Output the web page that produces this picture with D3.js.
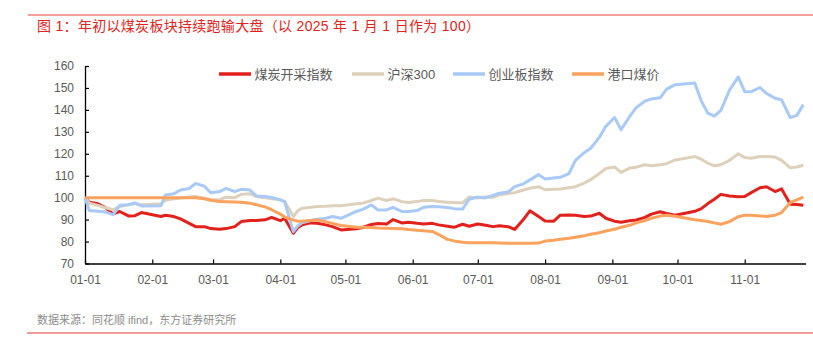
<!DOCTYPE html>
<html>
<head>
<meta charset="utf-8">
<script src="https://cdn.jsdelivr.net/npm/d3@7"></script>
<style>
  html, body { margin: 0; padding: 0; background: #fff; }
  svg { display: block; font-family: "Liberation Sans", Arial, "Noto Sans CJK SC", sans-serif; }
</style>
</head>
<body>
<svg id="chart" width="813" height="346"></svg>
<script>
// ---------------- data ----------------
const title = "图 1：年初以煤炭板块持续跑输大盘（以 2025 年 1 月 1 日作为 100）";
const source = "数据来源：同花顺 ifind，东方证券研究所";
const seriesNames = ["煤炭开采指数", "沪深300", "创业板指数", "港口煤价"];
const seriesColors = ["#e3211c", "#ddd1bb", "#a9c9f7", "#fba25e"];
const yTicks = [70, 80, 90, 100, 110, 120, 130, 140, 150, 160];
const xTickLabels = ["01-01","02-01","03-01","04-01","05-01","06-01","07-01","08-01","09-01","10-01","11-01"];
const dates = [
  "01-01","01-03","01-07","01-10","01-14","01-17","01-21","01-24","01-27",
  "02-05","02-07","02-11","02-14","02-18","02-21","02-25","02-28",
  "03-04","03-07","03-11","03-14","03-18","03-21","03-25","03-28",
  "04-01","04-03","04-07","04-09","04-11","04-15","04-18","04-22","04-25","04-29",
  "05-06","05-09","05-13","05-16","05-20","05-23","05-27","05-30",
  "06-03","06-06","06-10","06-13","06-17","06-20","06-24","06-27",
  "07-01","07-04","07-08","07-11","07-15","07-18","07-22","07-25","07-29",
  "08-01","08-05","08-08","08-12","08-15","08-19","08-22","08-26","08-29",
  "09-02","09-05","09-09","09-12","09-16","09-19","09-23","09-26","09-30",
  "10-09","10-12","10-15","10-18","10-21","10-25","10-29",
  "11-01","11-04","11-08","11-11","11-15","11-18","11-22","11-25","11-28"
];
const coal = [
  100, 97.9, 97.2, 95.7, 92.6, 93.7, 91.7, 91.8, 93.2,
  91.4, 92.0, 91.4, 90.3, 88.3, 86.8, 86.8, 85.9,
  85.6, 85.9, 86.8, 89.1, 89.6, 89.6, 89.9, 91.0,
  89.5, 90.6, 83.8, 86.3, 87.6, 88.5, 88.3, 87.6, 86.8, 85.3,
  85.8, 86.4, 87.8, 88.2, 88.0, 90.0, 88.5, 88.8,
  88.3, 88.0, 88.3, 87.6, 87.0, 86.5, 87.9, 87.0,
  88.0, 87.5, 86.8, 87.2, 86.8, 85.5, 90.0, 94.0, 91.4,
  89.4, 89.3, 92.0, 92.1, 92.0, 91.4, 91.6, 92.9, 90.6,
  89.3, 88.8, 89.5, 89.8, 91.0, 92.5, 93.6, 92.8, 92.0,
  93.8, 95.0, 97.3, 99.3, 101.5, 100.8, 100.4,
  100.5, 102.3, 104.5, 105.0, 102.8, 104.0, 97.0, 96.9, 96.5
];
const hs300 = [
  100, 97.5, 96.5, 95.5, 94.5, 96.0, 96.8, 97.3, 96.8,
  97.2, 98.8, 99.5, 99.8, 100.3, 100.6, 99.8, 99.2,
  99.0, 100.2, 100.0, 101.5, 101.8, 100.5, 99.9, 99.5,
  99.0, 98.2, 91.4, 94.0, 95.2, 95.6, 96.0, 96.1, 96.3, 96.3,
  97.2, 97.5, 98.7, 99.8, 98.7, 99.5, 98.2, 97.8,
  98.2, 98.7, 98.7, 98.3, 97.9, 97.8, 97.6, 100.3,
  99.8, 100.3, 100.2, 101.3, 101.9, 102.3, 103.5, 104.3, 105.0,
  103.6, 103.8, 104.0, 104.5, 105.0, 106.6, 108.2, 111.0, 113.3,
  114.0, 111.5, 113.5, 113.9, 115.0, 114.5, 115.0, 115.5, 117.2,
  118.7, 117.5, 115.7, 114.5, 115.0, 117.0, 120.0,
  118.3, 118.0, 118.8, 118.8, 118.5, 117.0, 113.6, 114.0, 114.8
];
const chinext = [
  100, 94.2, 93.8, 93.6, 92.3, 96.5, 96.8, 97.6, 96.2,
  96.3, 101.2, 101.8, 103.5, 104.2, 106.5, 105.2, 102.2,
  102.8, 104.2, 102.8, 103.8, 103.5, 100.8, 100.5, 100.1,
  99.0, 98.2, 84.5, 87.1, 88.6, 89.6, 90.2, 90.6, 91.4, 90.6,
  93.7, 94.7, 96.7, 94.4, 94.4, 95.6, 93.7, 93.7,
  94.1, 95.6, 96.0, 95.9, 95.5, 95.0, 94.8, 99.3,
  100.3, 99.8, 101.0, 102.0, 102.6, 105.0, 106.3, 108.1, 110.5,
  108.5, 109.0, 109.3, 111.0, 117.0, 120.5, 122.5, 127.5, 132.5,
  136.5, 131.0, 137.0, 141.0, 144.0, 145.0, 145.5, 149.5, 151.5,
  152.2, 144.0, 138.5, 137.2, 139.8, 149.0, 155.0,
  148.3, 148.3, 150.2, 147.5, 145.3, 144.5, 136.5, 137.5, 142.4
];
const portCoal = [
  100, 100, 100, 100, 100, 100, 100, 100, 100,
  100, 100, 100, 100, 100, 100, 99.5, 98.8,
  98.2, 98.1, 98.0, 97.9, 97.5, 96.8, 95.8, 94.5,
  92.5, 91.2, 89.8, 89.3, 89.2, 89.6, 89.8, 89.0, 88.3, 87.3,
  86.5, 86.5, 86.4, 86.2, 86.1, 86.0, 85.8, 85.5,
  85.2, 84.9, 84.6, 83.2, 81.0, 80.3, 79.7, 79.5,
  79.4, 79.4, 79.4, 79.3, 79.2, 79.2, 79.2, 79.2, 79.3,
  80.2, 80.6, 81.0, 81.5, 82.0, 82.6, 83.3, 84.0, 84.8,
  85.6, 86.5, 87.4, 88.5, 89.6, 90.6, 91.6, 92.0, 91.5,
  89.9, 89.6, 89.1, 88.5, 87.9, 89.1, 91.3,
  92.0, 92.0, 91.7, 91.4, 92.0, 93.2, 97.8, 99.0, 100.3
];
const seriesValues = [coal, hs300, chinext, portCoal];

// ---------------- chart ----------------
const parse = d3.timeParse("%Y-%m-%d");
const toDate = s => parse("2025-" + s);
const svg = d3.select("#chart");

const x = d3.scaleTime()
  .domain([toDate("01-01"), toDate("11-29")])
  .range([85, 805.5]);
const y = d3.scaleLinear().domain([70, 160]).range([263.5, 66]);

// header / footer rules
svg.append("line").attr("x1", 28).attr("x2", 813).attr("y1", 15).attr("y2", 15)
  .attr("stroke", "#e8413b").attr("stroke-width", 1.2);
svg.append("text").attr("x", 37).attr("y", 30.5)
  .attr("font-size", 14).attr("fill", "#e0231d")
  .attr("letter-spacing", 0.3)
  .text(title);
svg.append("line").attr("x1", 27).attr("x2", 813).attr("y1", 333).attr("y2", 333)
  .attr("stroke", "#f07a76").attr("stroke-width", 1.5);
svg.append("text").attr("x", 37).attr("y", 324)
  .attr("font-size", 11).attr("fill", "#8c8c8c")
  .text(source);

// axes
const yAxis = d3.axisLeft(y).tickValues(yTicks).tickSize(-4).tickPadding(11).tickSizeOuter(0);
const gy = svg.append("g").attr("transform", `translate(${x.range()[0]},0)`).call(yAxis);
const xAxis = d3.axisBottom(x).tickValues(xTickLabels.map(toDate))
  .tickFormat(d3.timeFormat("%m-%d")).tickSize(-4).tickPadding(12).tickSizeOuter(0);
const gx = svg.append("g").attr("transform", `translate(0,${y(70)})`).call(xAxis);
[gx, gy].forEach(g => {
  g.select(".domain").attr("stroke", "#000").attr("stroke-width", 1.3);
  g.selectAll(".tick line").attr("stroke", "#000").attr("stroke-width", 1.2);
  g.selectAll(".tick text").attr("fill", "#595959").attr("font-size", 12)
    .attr("font-family", "'Liberation Sans', Arial, sans-serif");
});

// lines
const line = d3.line()
  .x(d => x(d.date))
  .y(d => y(d.value));
seriesNames.forEach((name, i) => {
  const data = dates.map((s, j) => ({ date: toDate(s), value: seriesValues[i][j] }));
  svg.append("path")
    .datum(data)
    .attr("fill", "none")
    .attr("stroke", seriesColors[i])
    .attr("stroke-width", 3)
    .attr("stroke-linejoin", "round")
    .attr("d", line);
});

// legend
const legendX = [219, 352, 453, 572];
const legend = svg.append("g");
seriesNames.forEach((name, i) => {
  legend.append("line")
    .attr("x1", legendX[i]).attr("x2", legendX[i] + 32)
    .attr("y1", 74).attr("y2", 74)
    .attr("stroke", seriesColors[i]).attr("stroke-width", 3.5);
  legend.append("text")
    .attr("x", legendX[i] + 35.5).attr("y", 74).attr("dy", "0.36em")
    .attr("font-size", 13).attr("fill", "#595959")
    .text(name);
});
</script>
</body>
</html>
